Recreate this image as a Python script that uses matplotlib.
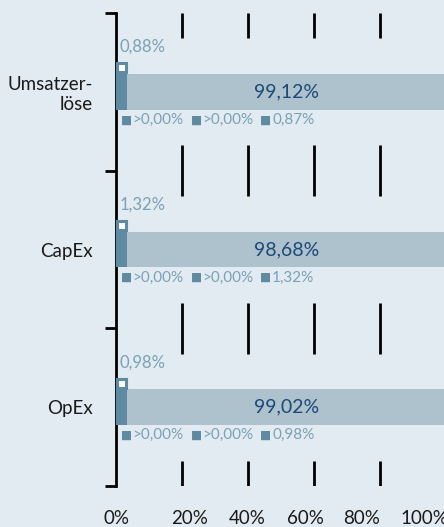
import numpy as np
import matplotlib
matplotlib.use("Agg")
import matplotlib.pyplot as plt
from matplotlib.offsetbox import TextArea, HPacker, AnnotationBbox

plt.rcParams['font.family'] = ['Lato', 'DejaVu Sans']

categories = ["Umsatzer-\nlöse", "CapEx", "OpEx"]
eligible = [0.88, 1.32, 0.98]
not_eligible = [99.12, 98.68, 99.02]
sub_a = [">0,00%", ">0,00%", ">0,00%"]
sub_b = [">0,00%", ">0,00%", ">0,00%"]
sub_c = ["0,87%", "1,32%", "0,98%"]

grid_vals = [20, 40, 60, 80]
tick_labels = ["0%", "20%", "40%", "60%", "80%", "100%"]
tick_label_pos = [0.2, 22.4, 39.7, 57.3, 74.5, 93.6]

bg = "#e1ebf1"
bar_light = "#aec2cd"
bar_dark = "#5e8ba1"
txt_light = "#7ba1b4"
txt_dark = "#1d4877"

def fmt(v):
    return f"{v:.2f}%".replace(".", ",")

fig = plt.figure(figsize=(4.44, 5.27), dpi=100, facecolor=bg)
ax = fig.add_axes([116 / 444, 1 - 486 / 527, 328 / 444, 473 / 527])
ax.set_facecolor(bg)

y = np.arange(len(categories))
min_w = 3.3  # small segment is drawn with a minimum visible width
bh = 0.228

for i in y:
    w = max(eligible[i], min_w)
    ax.barh(i, w, height=bh, color=bar_dark, zorder=3)
    ax.barh(i, 100 - w, left=w, height=bh, color=bar_light, zorder=3)
    ax.barh(i - 0.152, w - 0.8, left=0.4, height=0.058, facecolor="white",
            edgecolor=bar_dark, linewidth=2.2, zorder=3)
    ax.text(1.0, i - 0.285, fmt(eligible[i]), color=txt_light, fontsize=12,
            ha="left", va="center")
    ax.text((w + 100) / 2, i, fmt(not_eligible[i]), color=txt_dark, fontsize=14,
            ha="center", va="center", zorder=4)

    groups = []
    for s in [sub_a[i], sub_b[i], sub_c[i]]:
        sq = TextArea("■", textprops=dict(color=bar_dark, fontsize=8.5,
                                           family=['DejaVu Sans']))
        t = TextArea(s, textprops=dict(color=txt_light, fontsize=11))
        groups.append(HPacker(children=[sq, t], sep=0.5, align="center", pad=0))
    row = HPacker(children=groups, sep=5, align="center", pad=0)
    ab = AnnotationBbox(row, (1.4, i + 0.178), box_alignment=(0, 0.5),
                        frameon=False, pad=0, zorder=4)
    ax.add_artist(ab)

# grid segments only in the gaps between the groups
bounds = [-0.5, 0.5, 1.5, 2.5]
for b in bounds:
    lo = max(b - 0.16, -0.5)
    hi = min(b + 0.16, 2.5)
    ax.vlines(grid_vals, lo, hi, color="black", linewidth=2, zorder=2)

ax.set_xlim(0, 99.4)
ax.set_ylim(2.5, -0.5)

for side in ["top", "right", "bottom"]:
    ax.spines[side].set_visible(False)
ax.spines["left"].set_linewidth(2)
ax.spines["left"].set_color("black")

ax.set_yticks(y, categories, fontsize=13.5, color="#1a1a1a", ha="right")
ax.tick_params(axis="y", which="major", length=0, pad=17)
ax.set_yticks(bounds, minor=True)
ax.tick_params(axis="y", which="minor", length=8, width=2, color="black")

ax.set_xticks(tick_label_pos, tick_labels, fontsize=13.5, color="#1a1a1a")
ax.tick_params(axis="x", length=0, pad=17)

fig.savefig("out.png", dpi=100, facecolor=bg)
